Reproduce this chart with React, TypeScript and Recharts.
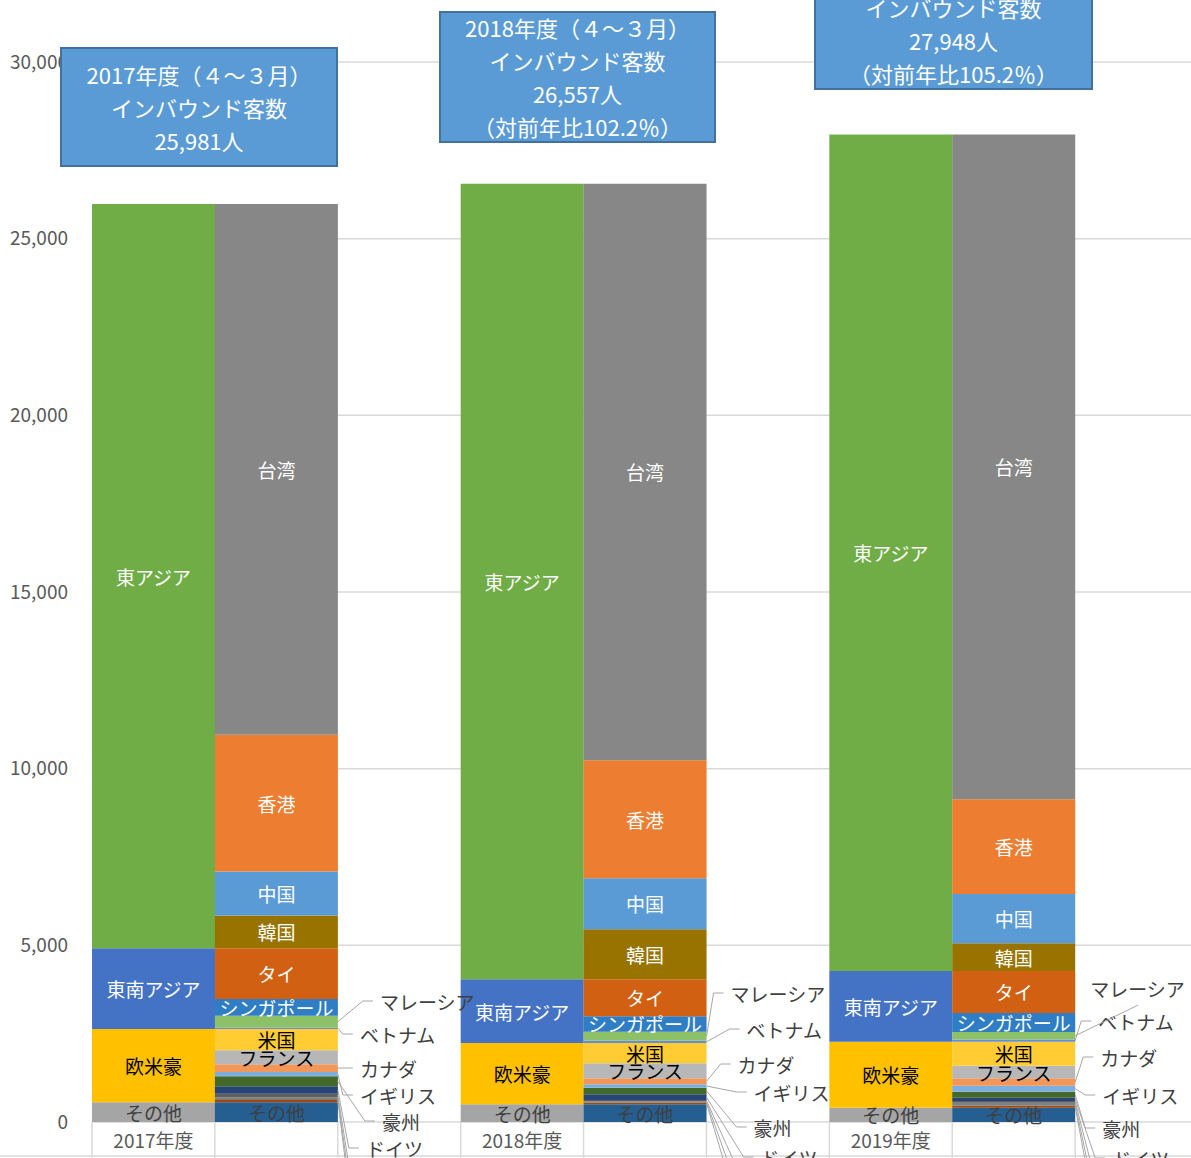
import React from 'react'
import { BarChart, Bar, XAxis, YAxis, CartesianGrid, LabelList } from 'recharts'

const FONT = '"Noto Sans CJK JP", "Noto Sans", sans-serif'

// 年度
const YEARS = ['2017年度', '2018年度', '2019年度']
const TOTALS = ['25,981', '26,557', '27,948']
const YOY = ['', '102.2％', '105.2％']
const Y_TICKS = [0, 5000, 10000, 15000, 20000, 25000, 30000]

// 左の棒（地域別）
const REGION_OTHER = [560, 500, 405]
const WEST = [2070, 1737, 1868]
const SOUTHEAST = [2288, 1803, 2002]
const EAST = [21063, 22517, 23673]

// 右の棒（国・地域別）
const COUNTRY_OTHER = [560, 500, 405]
const RUSSIA = [66, 47, 57]
const SPAIN = [75, 40, 85]
const ITALY = [100, 35, 47]
const GERMANY = [208, 160, 94]
const AUSTRALIA = [283, 189, 170]
const UK = [123, 94, 170]
const CANADA = [217, 170, 207]
const FRANCE = [396, 425, 358]
const USA = [602, 577, 680]
const VIETNAM = [47, 68, 60]
const MALAYSIA = [330, 250, 215]
const SINGAPORE = [472, 440, 540]
const THAILAND = [1439, 1045, 1187]
const KOREA = [923, 1416, 784]
const CHINA = [1246, 1444, 1396]
const HONGKONG = [3870, 3341, 2681]
const TAIWAN = [15024, 16316, 18812]

type Series = { key: string; name: string; values: number[]; side: 'L' | 'R'; color: string; text?: string }

const SERIES: Series[] = [
  { key: 'rOther', name: 'その他', values: REGION_OTHER, side: 'L', color: '#A5A5A5', text: '#404040' },
  { key: 'west', name: '欧米豪', values: WEST, side: 'L', color: '#FFC000', text: '#000000' },
  { key: 'sea', name: '東南アジア', values: SOUTHEAST, side: 'L', color: '#4472C4', text: '#FFFFFF' },
  { key: 'east', name: '東アジア', values: EAST, side: 'L', color: '#70AD47', text: '#FFFFFF' },
  { key: 'cOther', name: 'その他', values: COUNTRY_OTHER, side: 'R', color: '#255E91', text: '#404040' },
  { key: 'ru', name: 'ロシア', values: RUSSIA, side: 'R', color: '#9E480E' },
  { key: 'es', name: 'スペイン', values: SPAIN, side: 'R', color: '#7F7F7F' },
  { key: 'it', name: 'イタリア', values: ITALY, side: 'R', color: '#5E5E5E' },
  { key: 'de', name: 'ドイツ', values: GERMANY, side: 'R', color: '#264478' },
  { key: 'au', name: '豪州', values: AUSTRALIA, side: 'R', color: '#43682B' },
  { key: 'uk', name: 'イギリス', values: UK, side: 'R', color: '#7CAFDD' },
  { key: 'ca', name: 'カナダ', values: CANADA, side: 'R', color: '#F1975A' },
  { key: 'fr', name: 'フランス', values: FRANCE, side: 'R', color: '#B7B7B7', text: '#000000' },
  { key: 'us', name: '米国', values: USA, side: 'R', color: '#FFCD33', text: '#000000' },
  { key: 'vn', name: 'ベトナム', values: VIETNAM, side: 'R', color: '#698ED0' },
  { key: 'my', name: 'マレーシア', values: MALAYSIA, side: 'R', color: '#8CC168' },
  { key: 'sg', name: 'シンガポール', values: SINGAPORE, side: 'R', color: '#2E7DC5', text: '#FFFFFF' },
  { key: 'th', name: 'タイ', values: THAILAND, side: 'R', color: '#D26012', text: '#FFFFFF' },
  { key: 'kr', name: '韓国', values: KOREA, side: 'R', color: '#997300', text: '#FFFFFF' },
  { key: 'cn', name: '中国', values: CHINA, side: 'R', color: '#5B9BD5', text: '#FFFFFF' },
  { key: 'hk', name: '香港', values: HONGKONG, side: 'R', color: '#ED7D31', text: '#FFFFFF' },
  { key: 'tw', name: '台湾', values: TAIWAN, side: 'R', color: '#878787', text: '#FFFFFF' },
]

// 引き出し線ラベルの配置（棒の右端からのずれ, 文字の中心y）
const LEADER_POS: Record<string, { dx: number; y: number; end?: number }[]> = {
  my: [{ dx: 42, y: 1001 }, { dx: 24, y: 993 }, { dx: 15, y: 988, end: 63 }],
  vn: [{ dx: 22, y: 1034 }, { dx: 40, y: 1029 }, { dx: 23, y: 1021 }],
  ca: [{ dx: 22, y: 1068 }, { dx: 31, y: 1064 }, { dx: 25, y: 1057 }],
  uk: [{ dx: 22, y: 1095 }, { dx: 47, y: 1092 }, { dx: 27, y: 1095 }],
  au: [{ dx: 44, y: 1121 }, { dx: 47, y: 1127 }, { dx: 27, y: 1128 }],
  de: [{ dx: 28, y: 1148 }, { dx: 54, y: 1157 }, { dx: 37, y: 1158 }],
  it: [{ dx: 30, y: 1178 }, { dx: 56, y: 1187 }, { dx: 39, y: 1188 }],
  es: [{ dx: 32, y: 1208 }, { dx: 58, y: 1217 }, { dx: 41, y: 1218 }],
  ru: [{ dx: 34, y: 1238 }, { dx: 60, y: 1247 }, { dx: 43, y: 1248 }],
}

const BOXES = [
  { left: 60, top: 47, width: 278, height: 120 },
  { left: 439, top: 11, width: 277, height: 132 },
  { left: 814, top: -42, width: 279, height: 132 },
]

const W = 1200
const H = 1158
const PLOT_LEFT = 92
const PLOT_RIGHT = 1198
const BAND = (PLOT_RIGHT - PLOT_LEFT) / 9

// 9カテゴリ: 左の棒, 右の棒, 空き × 3年度
const rows: any[] = []
YEARS.forEach((yr, i) => {
  const left: any = { id: `${yr}-L`, label: yr }
  const right: any = { id: `${yr}-R`, label: '' }
  const gap: any = { id: `${yr}-G`, label: '' }
  SERIES.forEach(s => {
    left[s.key] = s.side === 'L' ? s.values[i] : 0
    right[s.key] = s.side === 'R' ? s.values[i] : 0
    gap[s.key] = 0
  })
  rows.push(left, right, gap)
})

const rectOf = (p: any) => {
  const vb = p.viewBox && p.viewBox.width !== undefined ? p.viewBox : p
  const x = Number(vb.x), y = Number(vb.y), w = Number(vb.width), h = Number(vb.height)
  return { x, y: h < 0 ? y + h : y, w, h: Math.abs(h) }
}

const inBarLabel = (text: string, color: string) => (p: any) => {
  const r = rectOf(p)
  if (!r.h || r.h < 0.5) return null
  return (
    <text x={r.x + r.w / 2} y={r.y + r.h / 2} fill={color} fontSize={19} fontFamily={FONT}
      textAnchor="middle" dominantBaseline="central">{text}</text>
  )
}

const leaderLabel = (key: string, text: string) => (p: any) => {
  const r = rectOf(p)
  if (!r.h || r.h < 0.5) return null
  // 年度は棒の位置から求める
  const yearIdx = Math.floor((r.x + r.w / 2 - PLOT_LEFT) / (BAND * 3))
  const spec = LEADER_POS[key][yearIdx]
  if (!spec) return null
  const ex = r.x + r.w
  const ey = r.y + r.h / 2
  const tx = ex + spec.dx
  const pts = spec.end !== undefined
    ? `${ex},${ey} ${ex + spec.end},${spec.y + 17}`
    : `${ex},${ey} ${tx - 17},${spec.y} ${tx - 7},${spec.y}`
  return (
    <g>
      <polyline points={pts} fill="none" stroke="#A6A6A6" strokeWidth={1} />
      <text x={tx} y={spec.y} fill="#404040" fontSize={19} fontFamily={FONT} dominantBaseline="central">{text}</text>
    </g>
  )
}

const TableTick = (props: any) => {
  const { x, y, index } = props
  const half = BAND / 2
  const row = rows[index] || {}
  const left = x - half
  const right = x + half
  return (
    <g>
      <line x1={left} y1={y} x2={left} y2={y + 40} stroke="#D9D9D9" strokeWidth={1.5} />
      {index === rows.length - 1 && <line x1={right} y1={y} x2={right} y2={y + 40} stroke="#D9D9D9" strokeWidth={1.5} />}
      <line x1={index === 0 ? 0 : left} y1={y + 34} x2={index === rows.length - 1 ? W : right} y2={y + 34} stroke="#D9D9D9" strokeWidth={1.5} />
      {row.label ? (
        <text x={x} y={y + 17} fill="#595959" fontSize={19} fontFamily={FONT} textAnchor="middle" dominantBaseline="central">{row.label}</text>
      ) : null}
    </g>
  )
}

export default function App() {
  return (
    <div style={{ position: 'absolute', left: 0, top: 0, width: 1191, height: 1158, overflow: 'hidden', background: '#fff', fontFamily: FONT }}>
      <BarChart width={W} height={H} data={rows} margin={{ top: 62, right: W - PLOT_RIGHT, bottom: 0, left: 0 }}
        barCategoryGap={0} barGap={0}>
        <CartesianGrid vertical={false} stroke="#D9D9D9" strokeWidth={1.5} />
        <XAxis dataKey="id" type="category" interval={0} height={36} tickSize={0} tickMargin={0}
          axisLine={false} tickLine={false} tick={<TableTick />} />
        <YAxis width={PLOT_LEFT} domain={[0, 30000]} ticks={Y_TICKS} axisLine={false} tickLine={false} tickMargin={18}
          tick={{ fill: '#595959', fontSize: 19, fontFamily: FONT }}
          tickFormatter={(v: number) => v.toLocaleString('en-US')} />
        {SERIES.map(s => (
          <Bar key={s.key} dataKey={s.key} name={s.name} stackId="s" fill={s.color} isAnimationActive={false}>
            <LabelList dataKey={s.key} content={s.text ? inBarLabel(s.name, s.text) : leaderLabel(s.key, s.name)} />
          </Bar>
        ))}
      </BarChart>
      {BOXES.map((b, i) => (
        <div key={i} style={{
          position: 'absolute', left: b.left, top: b.top, width: b.width, height: b.height,
          boxSizing: 'border-box', background: '#5B9BD5', border: '2px solid #41719C',
          display: 'flex', flexDirection: 'column', alignItems: 'center', justifyContent: 'center',
          color: '#FFFFFF', fontSize: 22, lineHeight: '33px',
        }}>
          <div>{YEARS[i]}（４～３月）</div>
          <div>インバウンド客数</div>
          <div>{TOTALS[i]}人</div>
          {YOY[i] ? <div>（対前年比{YOY[i]}）</div> : null}
        </div>
      ))}
    </div>
  )
}
